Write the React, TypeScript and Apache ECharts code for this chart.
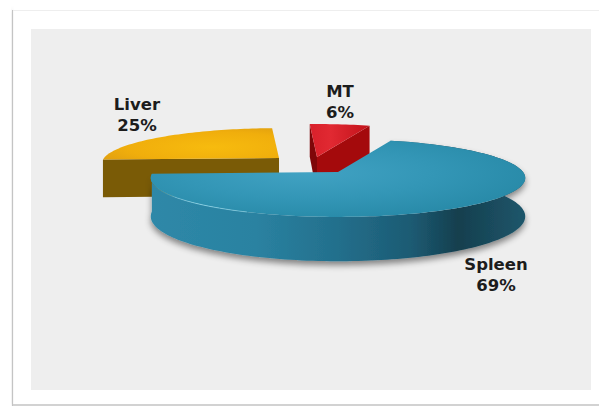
import React, { useEffect, useRef } from "react";
import * as echarts from "echarts";

// Slices are listed clockwise from the left-hand edge of the Liver wedge.
const categories = ["Liver", "MT", "Spleen"];
const percentages = [25, 6, 69];

const WIDTH = 599;
const HEIGHT = 406;

// Projection of the tilted disc: the far side is foreshortened by PERSPECTIVE.
const PERSPECTIVE = 0.154;
const FIRST_SLICE_ANGLE = 267.4;
const THICKNESS = 37.5;
const ARC_STEP = 1.5;

const horizontal = (stops: [number, string][]) => ({
  type: "linear",
  x: 0,
  y: 0,
  x2: 1,
  y2: 0,
  colorStops: stops.map(([offset, color]) => ({ offset, color })),
});

const radial = (x: number, y: number, r: number, stops: [number, string][]) => ({
  type: "radial",
  x,
  y,
  r,
  colorStops: stops.map(([offset, color]) => ({ offset, color })),
});

// Exploded position and look of each slice, in the order of `categories`.
const sliceLayouts: any[] = [
  {
    apex: [279, 158],
    rx: 175,
    ry: 34.5,
    label: [137, 115],
    top: radial(0.62, 0.6, 0.8, [
      [0, "#f7bb0e"],
      [0.6, "#f0ae0c"],
      [1, "#dd9c10"],
    ]),
    startFace: "#7a5b06",
  },
  {
    apex: [317, 157],
    rx: 185,
    ry: 38,
    label: [340, 102],
    top: horizontal([
      [0, "#d8202a"],
      [0.35, "#e12932"],
      [1, "#c2121a"],
    ]),
    startFace: "#7e0709",
    endFace: "#a40a0c",
  },
  {
    apex: [338, 172],
    rx: 185,
    ry: 38,
    label: [496, 275],
    top: radial(0.42, 0.42, 0.62, [
      [0, "#41a2c3"],
      [0.55, "#3396b6"],
      [1, "#288aa8"],
    ]),
    band: horizontal([
      [0, "#2e88a8"],
      [0.28, "#2a82a1"],
      [0.5, "#236f8c"],
      [0.7, "#1c5a72"],
      [0.82, "#153f4e"],
      [1, "#1e566b"],
    ]),
    rimHighlight: true,
  },
];

function project(layout: any, angle: number, drop = 0): number[] {
  const rad = (angle * Math.PI) / 180;
  const u = Math.sin(rad);
  const v = Math.cos(rad);
  const w = 1 + PERSPECTIVE * v;
  return [
    layout.apex[0] + (layout.rx * u) / w,
    layout.apex[1] - (layout.ry * v) / w + drop / w,
  ];
}

function arcPoints(layout: any, from: number, to: number, lowered = false): number[][] {
  const points: number[][] = [];
  const steps = Math.max(2, Math.ceil((to - from) / ARC_STEP));
  for (let i = 0; i <= steps; i++) {
    const angle = from + ((to - from) * i) / steps;
    points.push(project(layout, angle, lowered ? THICKNESS : 0));
  }
  return points;
}

function radialFace(layout: any, angle: number): number[][] {
  return [
    project(layout, angle),
    layout.apex,
    [layout.apex[0], layout.apex[1] + THICKNESS],
    project(layout, angle, THICKNESS),
  ];
}

function renderSlice(params: any, api: any) {
  const index = params.dataIndex;
  const layout = sliceLayouts[index];
  const total = percentages.reduce((sum, p) => sum + p, 0);
  let from = FIRST_SLICE_ANGLE;
  for (let i = 0; i < index; i++) from += (percentages[i] / total) * 360;
  const value = api.value(0);
  const to = from + (value / total) * 360;

  const children: any[] = [];
  if (layout.startFace) {
    children.push({
      type: "polygon",
      shape: { points: radialFace(layout, from) },
      style: { fill: layout.startFace },
    });
  }
  if (layout.endFace) {
    children.push({
      type: "polygon",
      shape: { points: radialFace(layout, to) },
      style: { fill: layout.endFace },
    });
  }
  if (layout.band) {
    const top = arcPoints(layout, from, to);
    const bottom = arcPoints(layout, from, to, true).reverse();
    children.push({
      type: "polygon",
      shape: { points: top.concat(bottom) },
      style: {
        fill: layout.band,
        shadowBlur: 6,
        shadowColor: "rgba(0,0,0,0.45)",
        shadowOffsetY: 4,
      },
    });
  }
  children.push({
    type: "polygon",
    shape: { points: [layout.apex].concat(arcPoints(layout, from, to)) },
    style: { fill: layout.top },
  });
  if (layout.rimHighlight) {
    children.push({
      type: "polyline",
      shape: { points: arcPoints(layout, 205, 265) },
      style: {
        fill: null,
        lineWidth: 1,
        stroke: horizontal([
          [0, "rgba(150,220,238,0)"],
          [0.5, "rgba(150,220,238,0.75)"],
          [1, "rgba(150,220,238,0.5)"],
        ]),
      },
    });
  }
  children.push({
    type: "text",
    style: {
      text: `${categories[index]}\n${value}%`,
      x: layout.label[0],
      y: layout.label[1],
      align: "center",
      verticalAlign: "middle",
      font: 'bold 16.5px "DejaVu Sans", sans-serif',
      lineHeight: 21,
      fill: "#1c1c1c",
    },
  });
  return { type: "group", children };
}

export default function App() {
  const ref = useRef<HTMLDivElement>(null);

  useEffect(() => {
    const chart = echarts.init(ref.current!, undefined, { renderer: "svg" });
    chart.setOption({
      animation: false,
      backgroundColor: "#ffffff",
      graphic: [
        // Picture-frame edges and the grey plot panel.
        {
          type: "rect",
          shape: { x: 12, y: 10, width: 1, height: 396 },
          style: {
            fill: "#c4c4c4",
            shadowBlur: 5,
            shadowColor: "rgba(0,0,0,0.35)",
            shadowOffsetX: -2,
          },
        },
        {
          type: "rect",
          shape: { x: 13, y: 10, width: 586, height: 1 },
          style: { fill: "#eeeeee" },
        },
        {
          type: "rect",
          shape: { x: 13, y: 404, width: 586, height: 2 },
          style: { fill: "#d2d2d2" },
        },
        {
          type: "rect",
          shape: { x: 31, y: 29, width: 560, height: 361 },
          style: { fill: "#eeeeee" },
        },
      ],
      series: [
        {
          type: "custom",
          coordinateSystem: "none",
          data: percentages,
          renderItem: renderSlice,
          silent: true,
        },
      ],
    });
    return () => chart.dispose();
  }, []);

  return (
    <div
      ref={ref}
      style={{ position: "fixed", left: 0, top: 0, width: WIDTH, height: HEIGHT }}
    />
  );
}
